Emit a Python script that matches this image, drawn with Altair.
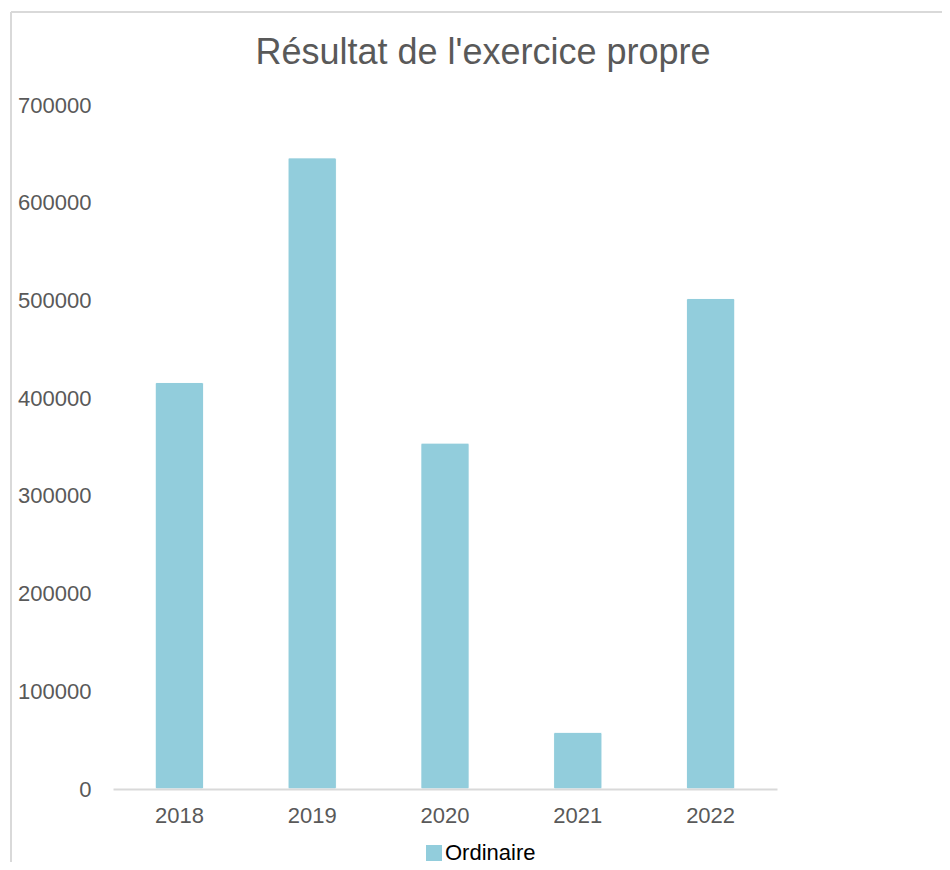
import altair as alt
import pandas as pd

years = ["2018", "2019", "2020", "2021", "2022"]
values = [416000, 646000, 354000, 58000, 502000]
series = ["Ordinaire"] * len(years)
y_ticks = [0, 100000, 200000, 300000, 400000, 500000, 600000, 700000]

FONT = "Liberation Sans"
BAR = "#92CDDC"
GREY = "#595959"
LINE = "#D9D9D9"

df = pd.DataFrame({"year": years, "value": values, "series": series})

bars = alt.Chart(df).mark_bar(
    stroke="#FFFFFF", strokeWidth=1, strokeOpacity=0.7, cornerRadius=2
).encode(
    x=alt.X("year:N", sort=years, title=None,
            scale=alt.Scale(paddingInner=0.635, paddingOuter=0.3175),
            axis=alt.Axis(labelAngle=0, ticks=False, tickSize=0, domain=True,
                          domainColor=LINE, domainWidth=2, labelPadding=16,
                          labelFont=FONT, labelFontSize=22, labelColor=GREY,
                          labelBaseline="top", zindex=1)),
    y=alt.Y("value:Q", title=None,
            scale=alt.Scale(domain=[0, 700000], nice=False),
            axis=alt.Axis(values=y_ticks, grid=False, domain=False, ticks=False,
                          tickSize=0, labelPadding=22, labelFont=FONT,
                          labelFontSize=22, labelColor=GREY, format="d")),
    color=alt.Color("series:N", title=None,
                    scale=alt.Scale(domain=["Ordinaire"], range=[BAR]),
                    legend=alt.Legend(orient="none", legendX=310, legendY=737,
                                      direction="horizontal", padding=0,
                                      symbolType="square", symbolSize=256,
                                      symbolStrokeWidth=0, symbolOpacity=1,
                                      labelFont=FONT, labelFontSize=22,
                                      labelColor="#000000", labelOffset=0)),
)

frame_df = pd.DataFrame({"k": [0]})
left_border = alt.Chart(frame_df).mark_rule(color=LINE, strokeWidth=2).encode(
    x=alt.value(-102), y=alt.value(-93), y2=alt.value(765)
)
top_border = alt.Chart(frame_df).mark_rule(color=LINE, strokeWidth=2).encode(
    x=alt.value(-102), x2=alt.value(837), y=alt.value(-93)
)

chart = alt.layer(left_border, top_border, bars).properties(
    width=664,
    height=684,
    title=alt.TitleParams(
        "Résultat de l'exercice propre", font=FONT, fontSize=36,
        fontWeight="normal", color=GREY, anchor="middle", dx=38,
        baseline="alphabetic", offset=0, dy=89,
    ),
    autosize=alt.AutoSizeParams(type="none"),
    padding={"left": 105, "top": 97, "right": 165, "bottom": 73},
).configure_view(stroke=None)

chart.save("out.html", embed_options={"renderer": "svg", "actions": False})
